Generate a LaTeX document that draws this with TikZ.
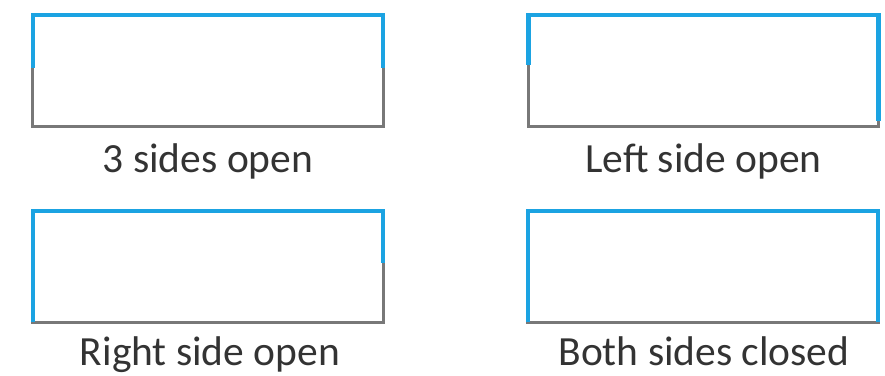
\documentclass[tikz,border=0pt]{standalone}
\usepackage{fontspec}
\setmainfont{Carlito}
\definecolor{wallblue}{RGB}{27,163,226}
\definecolor{wallgray}{RGB}{120,120,120}
\tikzset{
  slot/.style={minimum width=350pt, minimum height=111pt, inner sep=0pt},
  caption/.style={anchor=base, font=\fontsize{41.5}{48}\selectfont, text=black!80},
  graywall/.style={draw=wallgray, line width=3pt},
  bluewall/.style={draw=wallblue, line width=4.5pt, line join=miter}
}
\begin{document}
\begin{tikzpicture}[x=1pt,y=-1pt]
\useasboundingbox (0,0) rectangle (885,375);

\node[slot] (threeopen) at (208,70.5) {};
\node[slot] (leftopen) at (703.5,70.5) {};
\node[slot] (rightopen) at (208,266.5) {};
\node[slot] (bothclosed) at (703,266.5) {};

\node[caption] (lbl1) at (208,172) {3 sides open};
\node[caption] (lbl2) at (703.5,172) {Left side open};
\node[caption] (lbl3) at (210,365) {Right side open};
\node[caption] (lbl4) at (704,365) {Both sides closed};

% gray outlines first
\foreach \b in {threeopen,leftopen,rightopen,bothclosed}
  \draw[graywall] (\b.north west) rectangle (\b.south east);

% blue walls on top
\draw[bluewall] ([yshift=-53pt]threeopen.north west) -- (threeopen.north west) -- (threeopen.north east) -- ([yshift=-53pt]threeopen.north east);
\draw[bluewall] ([yshift=-50pt]leftopen.north west) -- (leftopen.north west) -- (leftopen.north east) -- ([yshift=5pt]leftopen.south east);
\draw[bluewall] (rightopen.south west) -- (rightopen.north west) -- (rightopen.north east) -- ([yshift=-52pt]rightopen.north east);
\draw[bluewall] (bothclosed.south west) -- (bothclosed.north west) -- (bothclosed.north east) -- (bothclosed.south east);
\end{tikzpicture}
\end{document}
